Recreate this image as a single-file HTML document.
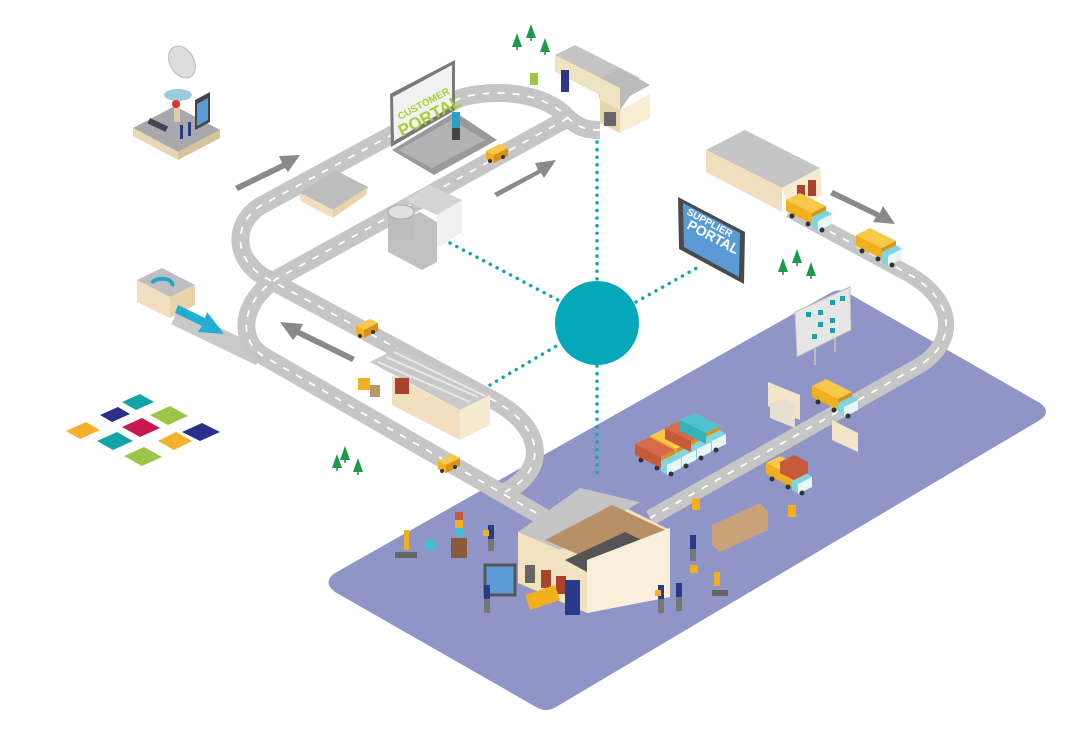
<!DOCTYPE html>
<html><head><meta charset="utf-8"><style>
html,body{margin:0;padding:0;background:#fff;}
svg{display:block;}
text{font-family:"Liberation Sans",Arial,sans-serif;font-weight:bold;}
</style></head><body>
<svg width="1080" height="729" viewBox="0 0 1080 729" xmlns="http://www.w3.org/2000/svg">
<defs>
<g id="van"><polygon points="0,4 14,-3 22,1 22,9 8,16 0,12" fill="#f2b01e"/><polygon points="0,4 14,-3 22,1 8,8" fill="#f7c84a"/><polygon points="8,8 22,1 22,9 8,16" fill="#d8921a"/><circle cx="4" cy="14" r="2" fill="#333"/><circle cx="17" cy="10" r="2" fill="#333"/></g>
<g id="truck"><polygon points="0,0 14,-7 40,6 26,13" fill="#f7c84a"/><polygon points="0,0 26,13 26,24 0,11" fill="#f2b01e"/><polygon points="26,13 40,6 40,17 26,24" fill="#d8921a"/><polygon points="26,17 40,10 46,14 46,24 32,31 26,27" fill="#7fd6e0"/><polygon points="32,21 46,14 46,24 32,31" fill="#e8f6f8"/><circle cx="6" cy="16" r="2.5" fill="#333"/><circle cx="22" cy="24" r="2.5" fill="#333"/><circle cx="36" cy="30" r="2.5" fill="#333"/></g>
<g id="tree"><polygon points="0,-14 5,0 -5,0" fill="#1a9a4a"/><rect x="-0.7" y="0" width="1.4" height="3" fill="#555"/></g>
</defs>

<!-- platform -->
<path d="M832,292 Q840,288 848,293 L1040,403 Q1052,412 1040,420 L556,707 Q546,713 536,707 L335,592 Q322,582 335,573 Z" fill="#9095c7"/>

<!-- roads -->
<g fill="none" stroke-linecap="butt" stroke-linejoin="round">
<path d="M175,316 L260,357" stroke="#c9c9c9" stroke-width="18"/>
<path d="M600,130 C585,130 578,127 568,118 C545,92 495,88 460,98 L262,205 C232,222 232,262 270,280 L493,400 C545,428 548,470 505,492" stroke="#c6c6c6" stroke-width="18"/>
<path d="M568,118 L280,277 C242,298 235,340 265,357 L545,518" stroke="#c6c6c6" stroke-width="18"/>
<path d="M790,210 L905,272 C958,300 958,345 915,368 L650,518" stroke="#c6c6c6" stroke-width="16"/>
<g stroke="#fff" stroke-width="1.8" stroke-dasharray="7 8">
<path d="M600,130 C585,130 578,127 568,118 C545,92 495,88 460,98 L262,205 C232,222 232,262 270,280 L493,400 C545,428 548,470 505,492"/>
<path d="M568,118 L280,277 C242,298 235,340 265,357 L545,518"/>
<path d="M790,210 L905,272 C958,300 958,345 915,368 L650,518"/>
</g>
</g>

<!-- dotted connectors -->
<g stroke="#14a3b0" stroke-width="3.5" stroke-dasharray="0.1 7.5" stroke-linecap="round" fill="none">
<line x1="597" y1="142" x2="597" y2="282"/>
<line x1="597" y1="366" x2="597" y2="475"/>
<line x1="450" y1="243" x2="558" y2="300"/>
<line x1="490" y1="385" x2="558" y2="345"/>
<line x1="636" y1="302" x2="702" y2="265"/>
</g>
<circle cx="597" cy="323" r="42" fill="#05a8b8"/>

<!-- arrows -->
<g fill="#8a8a8a">
<polygon points="235,186 282,163 279,156 300,155 288,172 285,168 238,191"/>
<polygon points="494,193 538,170 535,163 556,160 544,178 541,173 497,197"/>
<polygon points="355,357 300,330 303,324 280,322 293,340 297,335 352,362"/>
<polygon points="833,190 880,213 883,206 895,224 873,222 876,217 830,195"/>
</g>

<!-- satellite station -->
<polygon points="133,128 175,106 220,130 178,152" fill="#a9a9ad"/>
<polygon points="133,128 178,152 178,160 133,136" fill="#e8d8b4"/>
<polygon points="178,152 220,130 220,138 178,160" fill="#d4c49c"/>
<polygon points="195,100 210,92 210,122 195,130" fill="#444"/><polygon points="197,104 208,98 208,120 197,126" fill="#5b9bd5"/>
<ellipse cx="182" cy="62" rx="12" ry="17" fill="#ddd" stroke="#bbb" transform="rotate(-30 182 62)"/>
<ellipse cx="178" cy="95" rx="14" ry="6" fill="#9cd"/><rect x="174" y="100" width="6" height="22" fill="#e0c9a6"/>
<circle cx="176" cy="104" r="4" fill="#d33"/>
<rect x="150" y="118" width="20" height="6" fill="#445" transform="rotate(25 150 118)"/>
<rect x="180" y="125" width="3" height="14" fill="#2a3a8a"/><rect x="188" y="122" width="3" height="14" fill="#2a3a8a"/>

<!-- refresh building -->
<polygon points="137,280 162,268 195,285 170,297" fill="#bfbfc3"/>
<polygon points="137,280 170,297 170,318 137,302" fill="#f2dfbf"/>
<polygon points="170,297 195,285 195,305 170,318" fill="#e8d3ab"/>
<path d="M152,283 A9 5 0 1 1 172,286" stroke="#1fa8bf" stroke-width="4" fill="none"/>
<polygon points="178,305 205,318 207,312 224,334 198,332 202,326 175,313" fill="#22aed0"/>

<!-- puzzle -->
<g>
<polygon points="100,415 118,407 130,414 112,422" fill="#2a2f8a"/>
<polygon points="122,402 140,394 154,402 136,410" fill="#12a5a8"/>
<polygon points="66,431 86,422 100,430 80,439" fill="#f4b129"/>
<polygon points="122,427 142,418 160,428 140,437" fill="#c8184f"/>
<polygon points="150,415 170,406 188,416 168,425" fill="#9bc648"/>
<polygon points="97,441 117,432 133,441 113,450" fill="#12a5a8"/>
<polygon points="158,441 176,432 192,441 174,450" fill="#f4b129"/>
<polygon points="182,432 202,423 220,432 200,441" fill="#2a2f8a"/>
<polygon points="124,456 144,447 162,457 142,466" fill="#9bc648"/>
</g>

<!-- laptop -->
<polygon points="392,150 455,112 497,140 434,175" fill="#9a9a9a"/>
<polygon points="398,150 452,120 485,140 432,168" fill="#b3b3b3"/>
<polygon points="390,94 455,60 455,110 391,147" fill="#7a7a7a"/>
<polygon points="393,97 452,65 452,106 394,141" fill="#f2f2f2"/>
<text x="0" y="0" font-size="10" fill="#a6ce39" transform="translate(400,120) rotate(-28)">CUSTOMER</text>
<text x="0" y="0" font-size="17" fill="#a6ce39" transform="translate(402,137) rotate(-28)">PORTAL</text>
<rect x="452" y="112" width="8" height="16" fill="#2aa0c4"/><rect x="452" y="128" width="8" height="12" fill="#444"/>

<!-- house top right -->
<polygon points="555,55 575,45 640,78 620,88" fill="#c5c5c5"/>
<polygon points="595,80 620,68 650,85 630,96 620,110 600,100" fill="#bbb"/>
<polygon points="555,55 620,88 620,128 600,118 600,95 555,72" fill="#f0e3c2"/>
<polygon points="620,110 650,94 650,118 620,133" fill="#f6edd2"/>
<polygon points="600,100 620,110 620,133 600,123" fill="#e6d5af"/>
<rect x="604" y="112" width="12" height="14" fill="#666"/>
<rect x="561" y="70" width="8" height="22" fill="#2a3a8a"/>
<rect x="530" y="73" width="8" height="12" fill="#9bc648"/>
<g transform="translate(517,47)"><use href="#tree"/></g>
<g transform="translate(531,38)"><use href="#tree"/></g>
<g transform="translate(545,52)"><use href="#tree"/></g>

<!-- small building -->
<polygon points="300,193 335,170 368,187 333,210" fill="#bdbdbd"/>
<polygon points="300,193 333,210 333,218 300,201" fill="#f2dfbf"/>
<polygon points="333,210 368,187 366,195 333,218" fill="#e8d3ab"/>

<!-- gray building with cylinder -->
<polygon points="405,200 430,185 462,200 437,215" fill="#d5d5d5"/>
<polygon points="437,215 462,200 462,232 437,248" fill="#f0f0f0"/>
<polygon points="388,225 420,212 437,222 437,262 422,270 388,252" fill="#c0c0c0"/>
<rect x="388" y="212" width="26" height="28" fill="#bdbdbd"/><ellipse cx="401" cy="212" rx="13" ry="7" fill="#e0e0e0" stroke="#aaa"/>

<!-- mid warehouse -->
<polygon points="370,362 400,347 490,395 460,410" fill="#c9c9c9"/>
<g stroke="#e8e8e8" stroke-width="2"><line x1="378" y1="362" x2="470" y2="402"/><line x1="386" y1="357" x2="478" y2="397"/><line x1="394" y1="352" x2="485" y2="396"/></g>
<polygon points="392,375 460,410 460,440 392,405" fill="#f1dfbf"/>
<polygon points="460,410 490,395 490,425 460,440" fill="#f6ebd0"/>
<rect x="395" y="378" width="14" height="16" fill="#a8442e"/>
<rect x="358" y="378" width="12" height="12" fill="#f2b01e"/><rect x="370" y="385" width="10" height="12" fill="#b89a6a"/>

<!-- vans -->
<g transform="translate(486,147)"><use href="#van"/></g>
<g transform="translate(356,322)"><use href="#van"/></g>
<g transform="translate(438,457)"><use href="#van"/></g>
<g transform="translate(337,468)"><use href="#tree"/></g>
<g transform="translate(345,460)"><use href="#tree"/></g>
<g transform="translate(358,472)"><use href="#tree"/></g>

<!-- supplier portal -->
<polygon points="678,197 745,232 744,284 679,249" fill="#4a4a4a"/>
<polygon points="683,203 740,233 739,277 684,247" fill="#5b9bd5"/>
<text font-size="10" fill="#fff" transform="translate(686,214) rotate(28)">SUPPLIER</text>
<text font-size="14" fill="#fff" transform="translate(686,228) rotate(28)">PORTAL</text>

<!-- top right warehouse -->
<polygon points="706,150 745,130 820,168 782,188" fill="#c5c5c5"/>
<polygon points="706,150 782,188 782,212 706,172" fill="#f1dfbf"/>
<polygon points="782,188 820,168 822,195 790,212" fill="#f6ebd0"/>
<rect x="797" y="185" width="8" height="16" fill="#a8442e"/><rect x="808" y="180" width="8" height="16" fill="#a8442e"/>
<g transform="translate(786,200)"><use href="#truck"/></g>
<g transform="translate(856,235)"><use href="#truck"/></g>
<g transform="translate(783,272)"><use href="#tree"/></g>
<g transform="translate(797,263)"><use href="#tree"/></g>
<g transform="translate(811,276)"><use href="#tree"/></g>

<!-- billboard -->
<line x1="815" y1="340" x2="815" y2="365" stroke="#bbb" stroke-width="2"/><line x1="835" y1="330" x2="835" y2="352" stroke="#bbb" stroke-width="2"/>
<polygon points="795,312 850,287 851,330 797,357" fill="#e6e6e6" stroke="#bbb"/>
<g fill="#14a3b0"><rect x="806" y="312" width="5" height="5"/><rect x="818" y="310" width="5" height="5"/><rect x="830" y="300" width="5" height="5"/><rect x="840" y="296" width="5" height="5"/><rect x="818" y="322" width="5" height="5"/><rect x="830" y="318" width="5" height="5"/><rect x="830" y="328" width="5" height="5"/><rect x="812" y="334" width="5" height="5"/></g>

<!-- gate -->
<polygon points="768,382 800,395 800,420 768,406" fill="#f3e6c8"/>
<polygon points="770,404 785,398 795,405 795,428 770,418" fill="#e8e0cf"/>
<polygon points="832,420 858,433 858,452 832,440" fill="#f3e6c8"/>
<g transform="translate(812,386)"><use href="#truck"/></g>

<!-- parked trucks -->
<g transform="translate(680,420)"><use href="#truck"/></g>
<g transform="translate(665,428)"><use href="#truck"/></g>
<g transform="translate(650,436)"><use href="#truck"/></g>
<g transform="translate(635,444)"><use href="#truck"/></g>
<polygon points="635,444 649,437 675,450 661,457" fill="#d66a4a"/><polygon points="635,444 661,457 661,468 635,455" fill="#c65a3a"/>
<polygon points="665,428 679,421 705,434 691,441" fill="#d66a4a"/><polygon points="665,428 691,441 691,452 665,439" fill="#c65a3a"/>
<polygon points="680,420 694,413 720,426 706,433" fill="#4ec3cf"/><polygon points="680,420 706,433 706,444 680,431" fill="#36b0bf"/>
<g transform="translate(766,463)"><use href="#truck"/></g>
<polygon points="780,462 794,455 808,462 808,473 794,480 780,473" fill="#c65a3a"/>

<!-- central warehouse -->
<polygon points="518,532 590,490 670,530 670,597 587,613 518,583" fill="#f3e2c0"/>
<polygon points="518,532 580,488 640,502 560,550" fill="#c4c4c4"/>
<polygon points="545,540 612,505 665,530 598,563" fill="#b89068"/>
<polygon points="565,560 625,532 658,548 598,578" fill="#555"/>
<polygon points="587,560 670,528 670,597 587,613" fill="#f8f0da"/>
<rect x="525" y="565" width="10" height="18" fill="#666"/><rect x="541" y="570" width="10" height="18" fill="#a8442e"/><rect x="556" y="576" width="10" height="18" fill="#a8442e"/>
<rect x="565" y="580" width="15" height="35" fill="#2a3a8a"/>
<polygon points="525,595 555,585 560,600 530,610" fill="#f2b01e"/>
<rect x="485" y="565" width="30" height="30" fill="#5b9bd5" stroke="#555" stroke-width="3"/>

<!-- people and robots (simplified) -->
<g fill="#2a3a8a">
<rect x="488" y="525" width="6" height="14"/><rect x="690" y="535" width="6" height="14"/><rect x="658" y="585" width="6" height="14"/><rect x="676" y="583" width="6" height="14"/><rect x="484" y="585" width="6" height="14"/>
</g>
<g fill="#777"><rect x="488" y="539" width="6" height="12"/><rect x="690" y="549" width="6" height="12"/><rect x="658" y="599" width="6" height="14"/><rect x="676" y="597" width="6" height="14"/><rect x="484" y="599" width="6" height="14"/></g>
<g fill="#f2b01e"><rect x="483" y="530" width="6" height="6"/><rect x="655" y="590" width="6" height="6"/><rect x="690" y="565" width="8" height="8"/><rect x="714" y="572" width="6" height="14"/><rect x="404" y="530" width="5" height="20"/><rect x="692" y="498" width="8" height="12"/><rect x="788" y="505" width="8" height="12"/></g>
<rect x="425" y="540" width="10" height="10" fill="#3fbfcf"/>
<rect x="395" y="552" width="22" height="6" fill="#666"/>
<rect x="455" y="512" width="8" height="8" fill="#c65a3a"/><rect x="455" y="520" width="8" height="8" fill="#f2b01e"/><rect x="455" y="528" width="8" height="8" fill="#3fbfcf"/><rect x="451" y="538" width="16" height="20" fill="#8a5a3a"/>
<polygon points="712,525 760,503 768,512 768,530 720,552 712,545" fill="#c9a27a"/>
<rect x="712" y="590" width="16" height="6" fill="#666"/>
</svg>
</body></html>
